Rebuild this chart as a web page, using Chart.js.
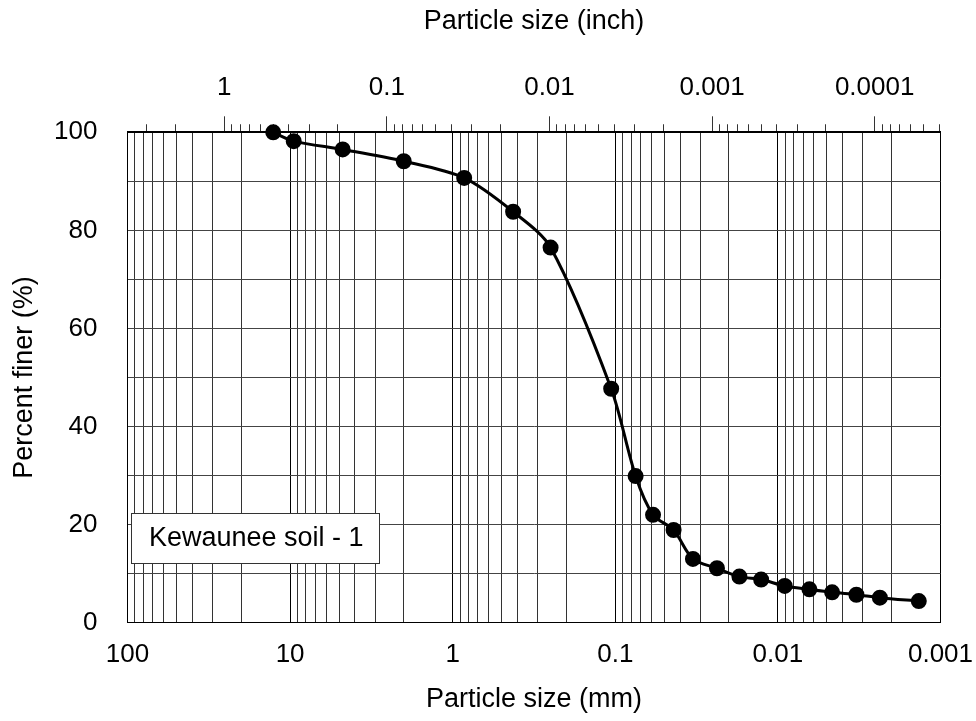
<!DOCTYPE html>
<html>
<head>
<meta charset="utf-8">
<script src="https://cdn.jsdelivr.net/npm/chart.js@4.4.1/dist/chart.umd.min.js"></script>
<style>
  html, body { margin: 0; padding: 0; background: #fff; }
  #wrap { width: 976px; height: 721px; }
</style>
</head>
<body>
<div id="wrap"><canvas id="chart" width="976" height="721"></canvas></div>
<script>
// --- Grain size curve ---
const sizeMm = [12.7, 9.5, 4.75, 2.0, 0.85, 0.425, 0.25, 0.106, 0.075, 0.0586, 0.0438,
    0.0333, 0.0237, 0.01725, 0.01268, 0.00908, 0.0064, 0.00464, 0.00329, 0.00236, 0.00136];
const percentFiner = [100, 98.2, 96.5, 94.1, 90.7, 83.8, 76.5, 47.7, 29.9, 22.0, 18.9,
    13.0, 11.1, 9.4, 8.8, 7.5, 6.8, 6.2, 5.7, 5.1, 4.4];
const seriesName = "Kewaunee soil - 1";

// --- Tick labels ---
const mmLabels = ["100", "10", "1", "0.1", "0.01", "0.001"];
const inchLabels = ["1", "0.1", "0.01", "0.001", "0.0001"];
const percentLabels = ["0", "20", "40", "60", "80", "100"];
const MM_PER_INCH = 25.4;

const FONT = '"Liberation Sans", Arial, sans-serif';
const TITLE_SIZE = 27;
Chart.defaults.font.family = FONT;
Chart.defaults.font.size = 26;
Chart.defaults.color = "#000";

// --- Helpers ---
function sameLog(a, b) {
    return Math.abs(Math.log10(a) - Math.log10(b)) < 1e-6;
}

// every 1..9 x 10^k inside [lo, hi], one decade below the last label too
function logTicks(labels, lo, hi) {
    const majors = labels.map(Number);
    majors.push(majors[majors.length - 1] / 10);
    const out = [];
    majors.forEach(m => {
        for (let d = 1; d <= 9; d++) {
            const v = m * d;
            if (v >= lo * 0.9999 && v <= hi * 1.0001) out.push(v);
        }
    });
    return out;
}

function labelFor(labels, v) {
    const l = labels.find(s => sameLog(Number(s), v));
    return l === undefined ? "" : l;
}

const mmMin = 0.001, mmMax = 100;
const inMin = mmMin / MM_PER_INCH, inMax = mmMax / MM_PER_INCH;

// --- Text box in the lower left corner ---
const legendBox = {
    id: "legendBox",
    afterDatasetsDraw(chart) {
        const { ctx, chartArea: a } = chart;
        const x = Math.round(a.left + 3), y = Math.round(a.bottom - 110), w = 248, h = 50;
        ctx.save();
        ctx.fillStyle = "#fff";
        ctx.fillRect(x, y, w, h);
        ctx.strokeStyle = "#333";
        ctx.lineWidth = 1;
        ctx.strokeRect(x + 0.5, y + 0.5, w, h);
        ctx.fillStyle = "#000";
        ctx.font = TITLE_SIZE + "px " + FONT;
        ctx.textBaseline = "middle";
        ctx.fillText(seriesName, x + 18, y + h / 2 + 1);
        ctx.restore();
    }
};

new Chart(document.getElementById("chart"), {
    type: "line",
    data: {
        datasets: [{
            label: seriesName,
            data: sizeMm.map((x, i) => ({ x, y: percentFiner[i] })),
            xAxisID: "x",
            yAxisID: "y",
            borderColor: "#000",
            borderWidth: 3,
            backgroundColor: "#000",
            pointBackgroundColor: "#000",
            pointBorderColor: "#000",
            pointRadius: 6.5,
            tension: 0.3,
            clip: false
        }]
    },
    options: {
        responsive: false,
        animation: false,
        layout: { padding: { left: 0, right: 35.5, top: 0, bottom: 0 } },
        plugins: { legend: { display: false }, tooltip: { enabled: false } },
        scales: {
            x: {
                type: "logarithmic",
                position: "bottom",
                reverse: true,
                min: mmMin,
                max: mmMax,
                afterBuildTicks: s => { s.ticks = logTicks(mmLabels, mmMin, mmMax).map(v => ({ value: v })); },
                afterFit: s => { s.height = 98.3; },
                ticks: {
                    autoSkip: false,
                    maxRotation: 0,
                    padding: 17,
                    callback: v => labelFor(mmLabels, v)
                },
                grid: {
                    drawTicks: false,
                    color: c => (c.tick && labelFor(mmLabels, c.tick.value) !== "") ? "#000" : "#333",
                    lineWidth: 1
                },
                border: { display: true, color: "#000", width: 1 },
                title: {
                    display: true,
                    text: "Particle size (mm)",
                    font: { size: TITLE_SIZE },
                    padding: { top: 0, bottom: 5 }
                }
            },
            x2: {
                type: "logarithmic",
                position: "top",
                reverse: true,
                min: inMin,
                max: inMax,
                afterBuildTicks: s => { s.ticks = logTicks(inchLabels, inMin, inMax).map(v => ({ value: v })); },
                afterFit: s => { s.height = 132.3; },
                ticks: {
                    autoSkip: false,
                    maxRotation: 0,
                    padding: 13,
                    callback: v => labelFor(inchLabels, v)
                },
                grid: {
                    drawOnChartArea: false,
                    drawTicks: true,
                    tickLength: 16,
                    tickColor: "#333",
                    tickWidth: 1,
                    // minor ticks: only the inner half of the tick is drawn
                    tickBorderDash: c => (c.tick && labelFor(inchLabels, c.tick.value) !== "") ? [] : [8, 8],
                    tickBorderDashOffset: c => (c.tick && labelFor(inchLabels, c.tick.value) !== "") ? 0 : 8
                },
                border: { display: true, color: "#000", width: 2 },
                title: {
                    display: true,
                    text: "Particle size (inch)",
                    font: { size: TITLE_SIZE },
                    padding: { top: 5, bottom: 0 }
                }
            },
            y: {
                type: "linear",
                min: 0,
                max: 100,
                afterFit: s => { s.width = 127.5; },
                ticks: {
                    stepSize: 10,
                    autoSkip: false,
                    padding: 30,
                    callback: v => percentLabels.includes(String(v)) ? String(v) : ""
                },
                grid: { drawTicks: false, color: "#444", lineWidth: 1 },
                border: { display: true, color: "#000", width: 1 },
                title: {
                    display: true,
                    text: "Percent finer (%)",
                    font: { size: TITLE_SIZE },
                    padding: { top: 8, bottom: 0 }
                }
            }
        }
    },
    plugins: [legendBox]
});
</script>
</body>
</html>
